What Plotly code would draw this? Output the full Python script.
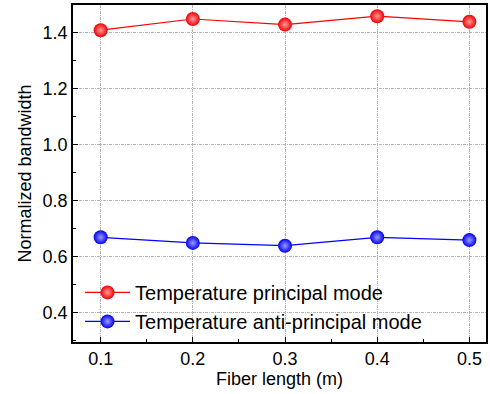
import plotly.graph_objects as go

fiber_length = [0.1, 0.2, 0.3, 0.4, 0.5]
principal = [1.41, 1.45, 1.43, 1.46, 1.44]
anti_principal = [0.67, 0.65, 0.64, 0.67, 0.66]
x_ticks = [0.1, 0.2, 0.3, 0.4, 0.5]
y_ticks = [0.4, 0.6, 0.8, 1.0, 1.2, 1.4]

FONT = "Liberation Sans, Arial"

fig = go.Figure()
fig.add_trace(go.Scatter(
    x=fiber_length, y=principal, mode="lines+markers",
    name="Temperature principal mode",
    line=dict(color="#ff0000", width=1.2),
    marker=dict(size=14, color="#f00000", gradient=dict(type="radial", color="#ff9a9a"),
                line=dict(width=0)),
))
fig.add_trace(go.Scatter(
    x=fiber_length, y=anti_principal, mode="lines+markers",
    name="Temperature anti-principal mode",
    line=dict(color="#0000ff", width=1.2),
    marker=dict(size=14, color="#0000f0", gradient=dict(type="radial", color="#9a9aff"),
                line=dict(width=0)),
))

axis_common = dict(
    showline=True, linecolor="black", linewidth=1.5, mirror=True,
    ticks="inside", ticklen=5, tickwidth=1.2, tickcolor="black",
    showgrid=True, gridcolor="#b4b4b4", gridwidth=1, griddash="3px,1px,1px,1px",
    zeroline=False,
    tickfont=dict(family=FONT, size=18, color="black"),
)

fig.update_xaxes(
    range=[0.07, 0.518], tickvals=x_ticks, ticktext=[f"{v:.1f}" for v in x_ticks],
    title=dict(text="Fiber length (m)", font=dict(family=FONT, size=18, color="black"), standoff=4),
    minor=dict(ticks="inside", ticklen=3, tickcolor="black", dtick=0.05, tick0=0.05, showgrid=False),
    **axis_common,
)
fig.update_yaxes(
    range=[0.296, 1.5], tickvals=y_ticks, ticktext=[f"{v:.1f}" for v in y_ticks],
    title=dict(text="Normalized bandwidth", font=dict(family=FONT, size=18, color="black"), standoff=6),
    minor=dict(ticks="inside", ticklen=3, tickcolor="black", dtick=0.1, tick0=0.3, showgrid=False),
    **axis_common,
)

fig.update_layout(
    width=490, height=394,
    margin=dict(l=73, r=2, t=5, b=52),
    paper_bgcolor="white", plot_bgcolor="white",
    legend=dict(x=0.017, y=0.205, xanchor="left", yanchor="top",
                bgcolor="rgba(0,0,0,0)", tracegroupgap=0,
                itemwidth=45,
                font=dict(family=FONT, size=20, color="black")),
    showlegend=True,
)

fig.write_html("out.html")
